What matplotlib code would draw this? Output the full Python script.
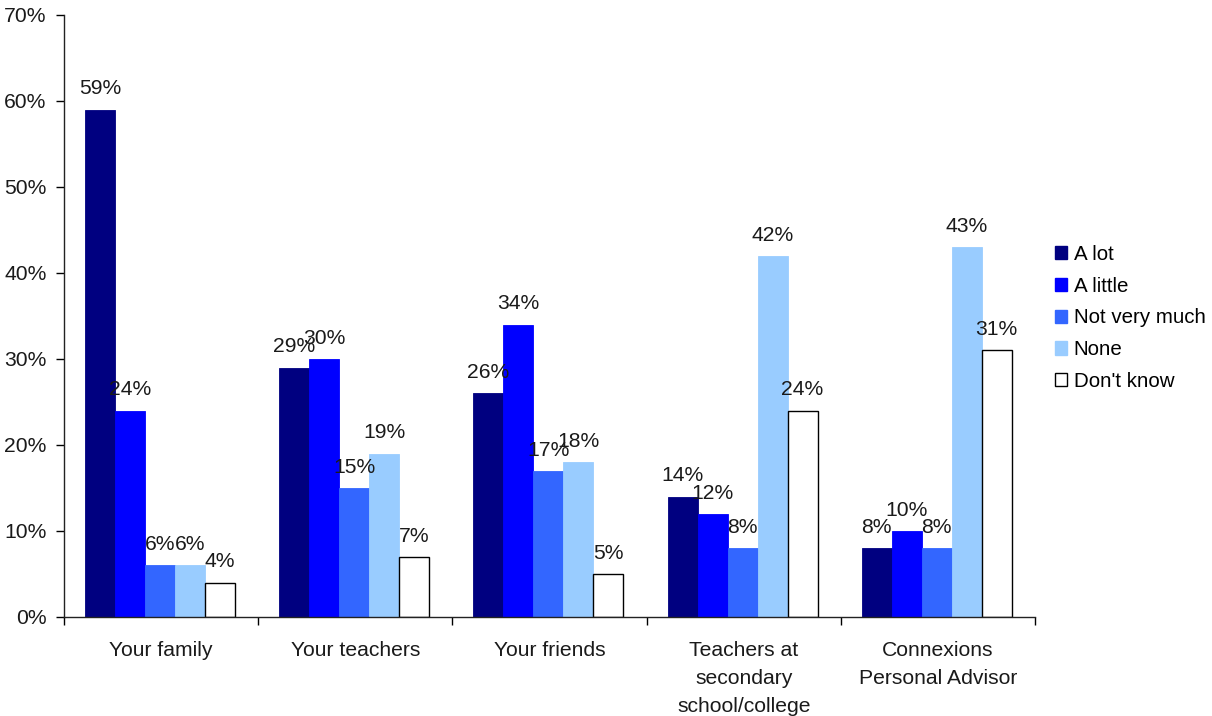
import matplotlib
matplotlib.use("Agg")
import matplotlib.pyplot as plt
import numpy as np
from matplotlib.patches import Patch

plt.rcParams['font.family'] = ['Liberation Sans', 'DejaVu Sans']

categories = ["Your family", "Your teachers", "Your friends",
              "Teachers at\nsecondary\nschool/college",
              "Connexions\nPersonal Advisor"]
series_names = ["A lot", "A little", "Not very much", "None", "Don't know"]
a_lot = [59, 29, 26, 14, 8]
a_little = [24, 30, 34, 12, 10]
not_very_much = [6, 15, 17, 8, 8]
none = [6, 19, 18, 42, 43]
dont_know = [4, 7, 5, 24, 31]
y_ticks = [0, 10, 20, 30, 40, 50, 60, 70]

series = [a_lot, a_little, not_very_much, none, dont_know]
colors = ["#000080", "#0000FF", "#3366FF", "#99CCFF", "#FFFFFF"]
edges = ["#000080", "#0000FF", "#3366FF", "#99CCFF", "#000000"]

fig = plt.figure(figsize=(12.12, 7.16), dpi=100)
ax = fig.add_axes([64 / 1212, 1 - 617 / 716, (1035 - 64) / 1212, (617 - 15) / 716])

fs = 15.2
txt = "#1a1a1a"
bw = 0.1545
start = 0.108
n = len(categories)
for si, (vals, c, ec) in enumerate(zip(series, colors, edges)):
    x = np.arange(n) + start + bw * si + bw / 2
    lw = 1.0 if si == 4 else 0.6
    ax.bar(x, vals, width=bw, color=c, edgecolor=ec, linewidth=lw, zorder=2)
    for xi, v in zip(x, vals):
        ax.annotate(f"{v}%", (xi, v), xytext=(0, 8), textcoords="offset points",
                    ha="center", va="bottom", fontsize=fs, color=txt)

ax.set_xlim(0, n)
ax.set_ylim(0, 70)
ax.set_yticks(y_ticks)
ax.set_yticklabels([f"{t}%" for t in y_ticks], fontsize=fs, color=txt)
ax.set_xticks(np.arange(n + 1))
ax.set_xticklabels([])
ax.set_xticks(np.arange(n) + 0.5, minor=True)
ax.set_xticklabels(categories, minor=True, fontsize=fs, color=txt,
                   linespacing=1.62, va="top")
ax.tick_params(axis="x", which="major", length=6, direction="out", width=1)
ax.tick_params(axis="x", which="minor", length=0, pad=17)
ax.tick_params(axis="y", length=6, direction="out", width=1, pad=6.5)
for s in ["top", "right"]:
    ax.spines[s].set_visible(False)
for s in ["left", "bottom"]:
    ax.spines[s].set_linewidth(1)
    ax.spines[s].set_color("#222222")

handles = [Patch(facecolor=c, edgecolor=("#000000" if i == 4 else c), linewidth=1)
           for i, c in enumerate(colors)]
fig.legend(handles, series_names, loc="upper left",
           bbox_to_anchor=(1055 / 1212, 1 - 245 / 716), frameon=False,
           fontsize=14.8, handlelength=0.6, handleheight=0.6, handletextpad=0.3,
           labelspacing=0.62, borderpad=0, borderaxespad=0)

fig.savefig("out.png", dpi=100, facecolor="white")
